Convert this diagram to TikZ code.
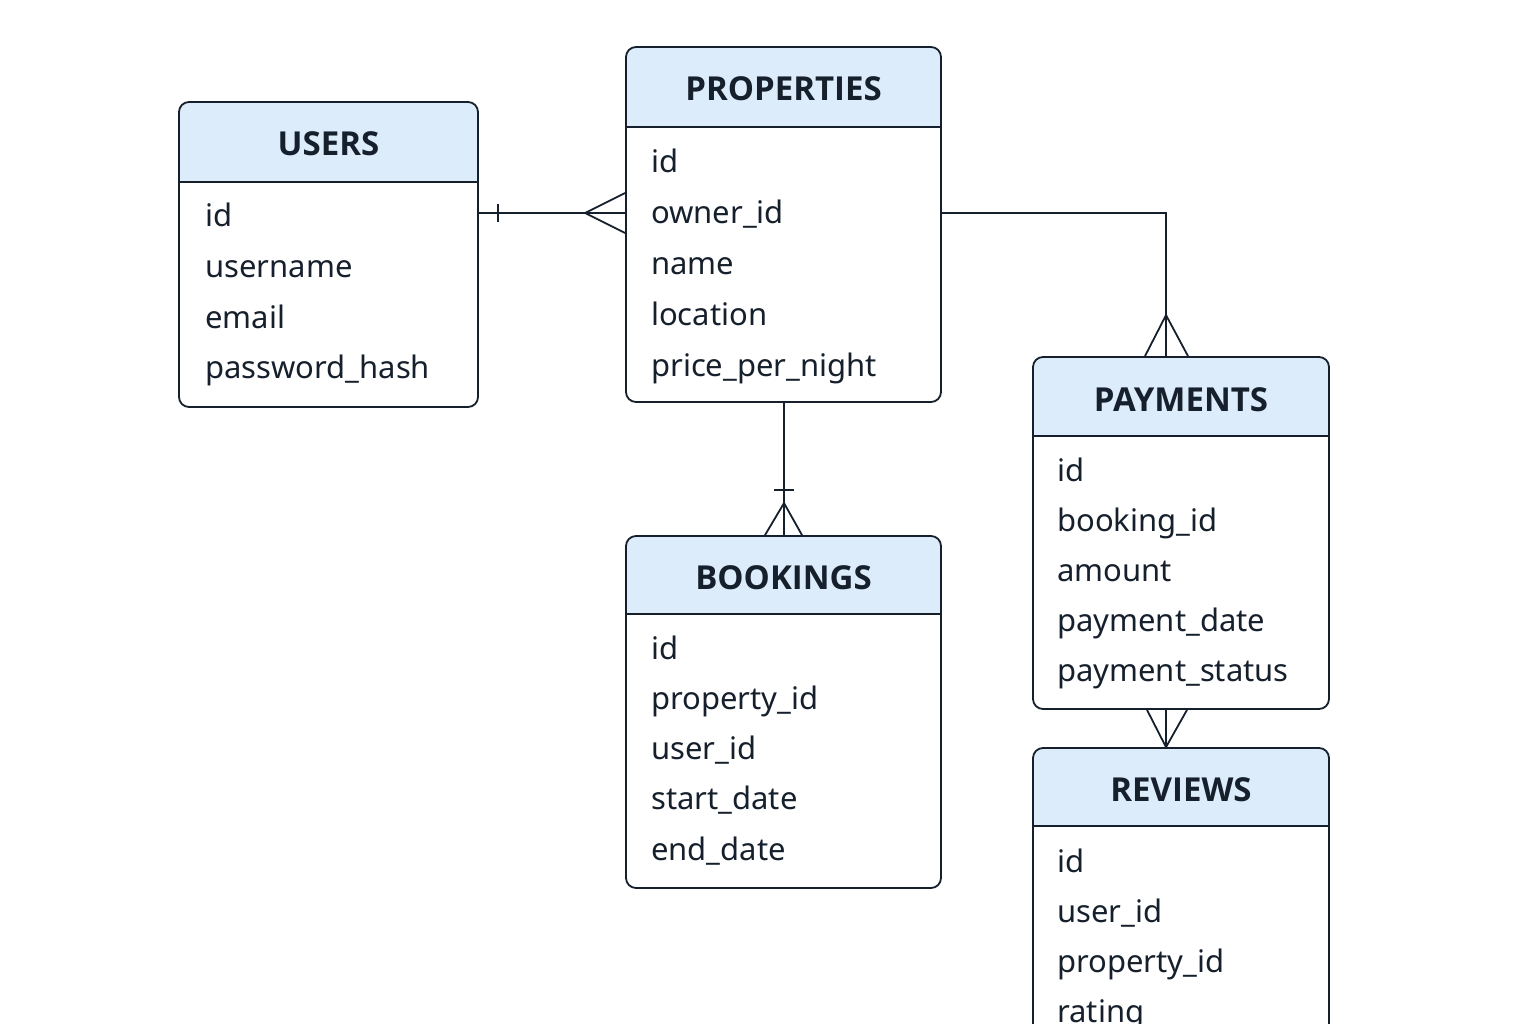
\documentclass[tikz,border=0pt]{standalone}
\usepackage{fontspec}
\setmainfont{Noto Sans}
\newfontfamily\titlefont{Open Sans}
\usetikzlibrary{fit,calc}
\definecolor{hdr}{HTML}{DDECFB}
\definecolor{ink}{HTML}{16202C}
\tikzset{
  ebox/.style={draw=ink, line width=1.8pt, rounded corners=10pt, inner sep=0pt},
  bline/.style={draw=ink, line width=1.6pt},
  etitle/.style={font=\titlefont\fontsize{33}{36}\selectfont\bfseries, text=ink, anchor=base, inner sep=0pt},
  efield/.style={font=\fontsize{31}{34}\selectfont, text=ink, anchor=base west, inner sep=0pt},
  conn/.style={draw=ink, line width=1.8pt},
}
\newcommand{\entity}[8]{%
  \begin{scope}
    \clip[rounded corners=10pt] (#2,#3) rectangle (#4,#5);
    \fill[hdr] (#2,#3) rectangle (#4,#6);
  \end{scope}
  \coordinate (#1-nw) at (#2,#3);
  \coordinate (#1-se) at (#4,#5);
  \node[ebox, fit=(#1-nw)(#1-se)] (#1) {};
  \draw[bline] (#2,#6) -- (#4,#6);
  \node[etitle] (#1-t) at ({(#2+#4)/2},#7) {#8};
}
\begin{document}
\begin{tikzpicture}[x=1pt,y=-1pt]
\useasboundingbox[fill=white] (0,0) rectangle (1536,1024);
\begin{scope}
\clip (0,0) rectangle (1536,1024);

% USERS
\entity{users}{179}{102}{478}{407}{182}{156}{USERS}
\node[efield] (u1) at (205,227) {id};
\node[efield] (u2) at (205,278) {username};
\node[efield] (u3) at (205,328) {email};
\node[efield] (u4) at (205,378) {password\_hash};

% PROPERTIES
\entity{props}{626}{47}{941}{402}{127}{101}{PROPERTIES}
\node[efield] (p1) at (651,173) {id};
\node[efield] (p2) at (651,224) {owner\_id};
\node[efield] (p3) at (651,275) {name};
\node[efield] (p4) at (651,325) {location};
\node[efield] (p5) at (651,376) {price\_per\_night};

% BOOKINGS
\entity{book}{626}{536}{941}{888}{614}{589}{BOOKINGS}
\node[efield] (b1) at (651,659) {id};
\node[efield] (b2) at (651,709) {property\_id};
\node[efield] (b3) at (651,759) {user\_id};
\node[efield] (b4) at (651,809) {start\_date};
\node[efield] (b5) at (651,860) {end\_date};

% PAYMENTS
\entity{pay}{1033}{357}{1329}{709}{436}{411}{PAYMENTS}
\node[efield] (y1) at (1057,481) {id};
\node[efield] (y2) at (1057,531) {booking\_id};
\node[efield] (y3) at (1057,581) {amount};
\node[efield] (y4) at (1057,631) {payment\_date};
\node[efield] (y5) at (1057,681) {payment\_status};

% REVIEWS
\entity{rev}{1033}{748}{1329}{1110}{826}{801}{REVIEWS}
\node[efield] (r1) at (1057,872) {id};
\node[efield] (r2) at (1057,922) {user\_id};
\node[efield] (r3) at (1057,972) {property\_id};
\node[efield] (r4) at (1057,1022) {rating};

% USERS -- PROPERTIES
\coordinate (c1a) at (users.east |- 0,213);
\coordinate (c1b) at (props.west |- 0,213);
\draw[conn] (c1a) -- (c1b);
\draw[conn] ($(c1a)+(19,-9)$) -- ($(c1a)+(19,9)$);
\draw[conn] ($(c1b)+(0,-20)$) -- ($(c1b)+(-40,0)$) -- ($(c1b)+(0,20)$);

% PROPERTIES -- BOOKINGS
\coordinate (c2a) at (props.south -| 784,0);
\coordinate (c2b) at (book.north -| 784,0);
\draw[conn] (c2a) -- (c2b);
\draw[conn] ($(c2b)+(-10,-45)$) -- ($(c2b)+(10,-45)$);
\draw[conn] ($(c2b)+(-19,0)$) -- ($(c2b)+(0,-32)$) -- ($(c2b)+(18,0)$);

% PROPERTIES -- PAYMENTS
\coordinate (c3a) at (props.east |- 0,213);
\coordinate (c3b) at (pay.north -| 1166,0);
\draw[conn] (c3a) -| (c3b);
\draw[conn] ($(c3b)+(-21,0)$) -- ($(c3b)+(0,-41)$) -- ($(c3b)+(22,0)$);

% PAYMENTS -- REVIEWS
\coordinate (c4a) at (pay.south -| 1166,0);
\coordinate (c4b) at (rev.north -| 1166,0);
\draw[conn] (c4a) -- (c4b);
\draw[conn] ($(c4a)+(-19,0)$) -- (c4b) -- ($(c4a)+(21,0)$);
\end{scope}
\end{tikzpicture}
\end{document}
